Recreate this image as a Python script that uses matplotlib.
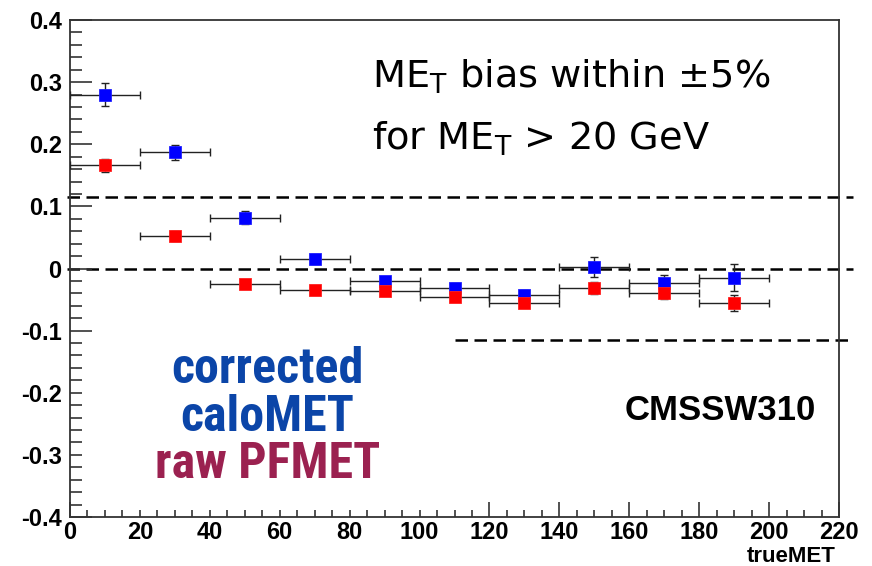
import matplotlib
matplotlib.use("Agg")
import matplotlib.pyplot as plt
from matplotlib import font_manager
from matplotlib.patches import Rectangle
from matplotlib.ticker import MultipleLocator

# MET response: (reco - true) / true in bins of true MET
bin_centers = [10, 30, 50, 70, 90, 110, 130, 150, 170, 190]
bin_half_width = [10, 10, 10, 10, 10, 10, 10, 10, 10, 10]

calo_bias = [0.280, 0.187, 0.082, 0.016, -0.020, -0.031, -0.042, 0.003, -0.023, -0.015]
calo_err = [0.018, 0.012, 0.010, 0.008, 0.006, 0.007, 0.007, 0.016, 0.012, 0.022]

pf_bias = [0.166, 0.053, -0.025, -0.034, -0.036, -0.046, -0.055, -0.031, -0.039, -0.055]
pf_err = [0.010, 0.008, 0.004, 0.004, 0.005, 0.005, 0.005, 0.010, 0.010, 0.013]

# +-5% guide band and zero line: (y, x start, x end)
guide_lines = [(0.115, -1.0, 224.0), (0.0, -1.0, 224.0), (-0.115, 110.0, 224.0)]

x_ticks = [0, 20, 40, 60, 80, 100, 120, 140, 160, 180, 200, 220]
y_ticks = [-0.4, -0.3, -0.2, -0.1, 0, 0.1, 0.2, 0.3, 0.4]


def pick_font(candidates):
    for name in candidates:
        try:
            font_manager.findfont(font_manager.FontProperties(family=name),
                                  fallback_to_default=False)
            return name
        except Exception:
            continue
    return "DejaVu Sans"


narrow = pick_font(["Liberation Sans Narrow", "Roboto Condensed", "Open Sans Condensed",
                    "Liberation Sans"])
helv = pick_font(["Liberation Sans", "Arimo", "DejaVu Sans"])

fig = plt.figure(figsize=(8.72, 5.66), dpi=100)
ax = fig.add_axes([70 / 872, 1 - 517 / 566, (839 - 70) / 872, (517 - 20) / 566])

ax.set_xlim(0, 220)
ax.set_ylim(-0.4, 0.4)

# guide lines, running past the right frame edge
for y, x0, x1 in guide_lines:
    ax.plot([x0, x1], [y, y], color="black", lw=1.8, ls=(0, (5, 2.6)),
            clip_on=False, zorder=1.5)

eb_style = dict(fmt="none", ecolor="#222222", elinewidth=1.0, capsize=2.8,
                capthick=1.0, zorder=3)
ax.errorbar(bin_centers, calo_bias, xerr=bin_half_width, yerr=calo_err, **eb_style)
ax.errorbar(bin_centers, pf_bias, xerr=bin_half_width, yerr=pf_err, **eb_style)
ax.plot(bin_centers, calo_bias, ls="none", marker="s", ms=8.6, mfc="#0000ff",
        mec="#2020ff", mew=0.6, zorder=4)
ax.plot(bin_centers, pf_bias, ls="none", marker="s", ms=8.6, mfc="#ff0000",
        mec="#ff2020", mew=0.6, zorder=5)

# frame and ticks
for side in ["left", "right", "top", "bottom"]:
    ax.spines[side].set_linewidth(1.3)
    ax.spines[side].set_color("#333333")

ax.set_xticks(x_ticks)
ax.set_yticks(y_ticks)
ax.xaxis.set_minor_locator(MultipleLocator(5))
ax.yaxis.set_minor_locator(MultipleLocator(0.02))
ax.tick_params(axis="y", which="both", direction="in", left=True, right=False,
               color="#333333", width=1.2)
ax.tick_params(axis="x", which="both", direction="in", bottom=True, top=False,
               color="#333333", width=1.2)
ax.tick_params(axis="y", which="major", length=16, pad=6)
ax.tick_params(axis="y", which="minor", length=8.5)
ax.tick_params(axis="x", which="major", length=11, pad=3)
ax.tick_params(axis="x", which="minor", length=5)

ax.set_yticklabels(["-0.4", "-0.3", "-0.2", "-0.1", "0", "0.1", "0.2", "0.3", "0.4"])
ax.set_xticklabels([str(v) for v in x_ticks])
for lab in ax.get_xticklabels() + ax.get_yticklabels():
    lab.set_fontfamily(helv)
    lab.set_fontweight("bold")
    lab.set_fontsize(17)

fig.text(836 / 872, 1 - 556 / 566, "trueMET", ha="right", va="center",
         fontfamily=helv, fontweight="bold", fontsize=16)

# white label panel behind the series names
ax.add_patch(Rectangle((3.5, -0.388), 106.5, 0.286, facecolor="white",
                       edgecolor="none", zorder=2.6))

name_style = dict(ha="center", va="baseline", fontfamily=narrow, fontweight="bold",
                  fontsize=36, zorder=6)
ax.text(56.5, -0.185, "corrected", color="#0b45a8", **name_style)
ax.text(56.5, -0.261, "caloMET", color="#0b45a8", **name_style)
ax.text(56.5, -0.337, "raw PFMET", color="#9b2150", **name_style)

ax.text(186, -0.229, "CMSSW310", ha="center", va="center", fontfamily=helv,
        fontweight="bold", fontsize=25, color="black", zorder=6)

fig.text(372 / 872, 1 - 88 / 566, r"ME$_{\mathrm{T}}$ bias within $\pm$5%",
         ha="left", va="baseline", fontfamily="DejaVu Sans", fontweight="normal",
         fontsize=27.5, color="black")
fig.text(372 / 872, 1 - 150 / 566, r"for ME$_{\mathrm{T}}$ > 20 GeV",
         ha="left", va="baseline", fontfamily="DejaVu Sans", fontweight="normal",
         fontsize=27.5, color="black")

fig.savefig("out.png", dpi=100)
